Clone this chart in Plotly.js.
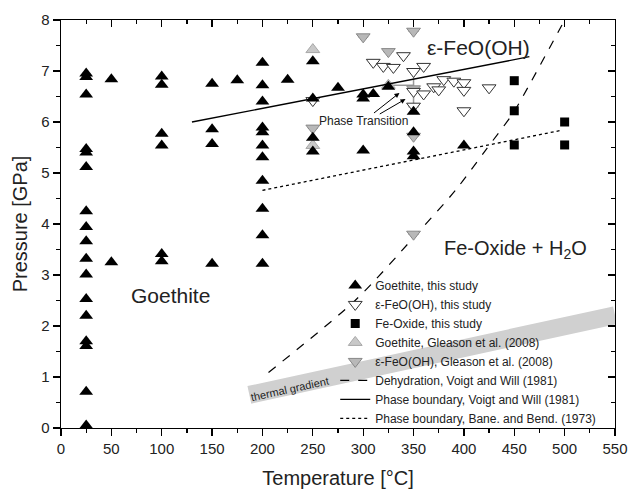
<!DOCTYPE html>
<html><head><meta charset="utf-8">
<script src="https://cdn.plot.ly/plotly-3.0.1.min.js"></script>
<style>html,body{margin:0;padding:0;background:#fff}#c{width:630px;height:493px}</style>
</head><body><div id="c"></div>
<script>
// Goethite, this study
const goeT = [25,25,25,25,25,25,25,25,25,25,25,25,25,25,25,25,25,25,
  50,50, 100,100,100,100,100,100, 150,150,150,150, 175,
  200,200,200,200,200,200,200,200,200,200,200, 225,
  250,250,250,250, 275, 300,300,300, 310, 325, 350,350,350,350, 400];
const goeP = [0.02,0.05,0.71,1.61,1.70,2.20,2.53,3.01,3.32,3.66,3.94,4.25,5.12,5.40,5.47,6.54,6.88,6.95,
  6.84,3.25, 6.89,6.73,5.77,5.54,3.41,3.27, 6.75,5.86,5.57,3.22, 6.82,
  7.16,6.72,6.40,5.89,5.80,5.54,5.31,4.85,4.30,3.78,3.22, 6.83,
  7.19,6.46,5.69,5.42, 6.67, 6.54,6.46,5.44, 6.55, 6.69, 6.20,5.80,5.42,5.33, 5.54];
// epsilon-FeO(OH), this study
const epsT = [250,310,320,330,340,350,360,350,350,360,370,375,380,390,400,400,400,425];
const epsP = [6.42,7.17,7.09,7.07,7.30,6.99,7.09,6.60,6.31,6.55,6.69,6.63,6.83,6.80,6.77,6.62,6.22,6.67];
// Fe-Oxide, this study
const oxT = [450,450,450,500,500];
const oxP = [6.81,6.22,5.55,6.00,5.55];
// Goethite, Gleason et al. (2008)
const gGoeT = [250,250,325];
const gGoeP = [7.42,5.54,6.72];
const gGoeErrXplus = [null,null,25];
const gGoeErrXminus = [null,null,0];
// epsilon-FeO(OH), Gleason et al. (2008)
const gEpsT = [300,350,325,350,250,350,350];
const gEpsP = [7.67,7.78,7.38,6.65,5.88,5.72,3.80];
const gEpsErrY = [null,null,null,0.35,null,null,null];
// Dehydration, Voigt and Will (1981)
const dehT = [206,293,353,392,422,449,465,500];
const dehP = [1.09,2.52,3.80,4.67,5.46,6.18,6.73,8.0];
// Phase boundary, Voigt and Will (1981)
const vwT = [130,465];
const vwP = [6.0,7.28];
// Phase boundary, Bane. and Bend. (1973)
const bbT = [200,495];
const bbP = [4.66,5.83];
// thermal gradient band
const thermT = [187,550];
const thermP = [0.65,2.21];
// tick labels
const xTicks = [0,50,100,150,200,250,300,350,400,450,500,550];
const yTicks = [0,1,2,3,4,5,6,7,8];

const FONT = 'Liberation Sans, Arial, sans-serif';

const traces = [
  {x: dehT, y: dehP, mode:'lines', line:{color:'#000', width:1.2, dash:'dash', shape:'spline', smoothing:0.8},
   name:'Dehydration, Voigt and Will (1981)', legendrank:6},
  {x: vwT, y: vwP, mode:'lines', line:{color:'#000', width:1.3}, xaxis:'x2', yaxis:'y2',
   name:'Phase boundary, Voigt and Will (1981)', legendrank:7},
  {x: bbT, y: bbP, mode:'lines', line:{color:'#000', width:1.3, dash:'dot'},
   name:'Phase boundary, Bane. and Bend. (1973)', legendrank:8},
  {x: gGoeT, y: gGoeP, mode:'markers', type:'scatter',
   marker:{symbol:'triangle-up', size:12, color:'#c8c8c8', line:{color:'#a8a8a8', width:1}},
   error_x:{type:'data', symmetric:false, array:gGoeErrXplus, arrayminus:gGoeErrXminus, color:'#999', thickness:1.5, width:0},
   name:'Goethite, Gleason et al. (2008)', legendrank:4},
  {x: gEpsT, y: gEpsP, mode:'markers', type:'scatter',
   marker:{symbol:'triangle-down', size:12, color:'#b8b8b8', line:{color:'#888', width:1}},
   error_y:{type:'data', array:gEpsErrY, color:'#999', thickness:1.5, width:5},
   name:'ε-FeO(OH), Gleason et al. (2008)', legendrank:5},
  {x: epsT, y: epsP, mode:'markers', type:'scatter',
   marker:{symbol:'triangle-down', size:12, color:'#fff', line:{color:'#333', width:1}},
   name:'ε-FeO(OH), this study', legendrank:2},
  {x: goeT, y: goeP, mode:'markers', type:'scatter',
   marker:{symbol:'triangle-up', size:12, color:'#000'},
   name:'Goethite, this study', legendrank:1},
  {x: oxT, y: oxP, mode:'markers', type:'scatter',
   marker:{symbol:'square', size:9, color:'#000'},
   name:'Fe-Oxide, this study', legendrank:3}
];

const axisCommon = {
  showgrid:false, zeroline:false, showline:true, linecolor:'#000', linewidth:1.3,
  ticks:'outside', ticklen:7, tickwidth:1.3, tickcolor:'#000',
  tickfont:{family:FONT, size:15, color:'#222'}
};

const layout = {
  width:630, height:493,
  margin:{l:61, r:15, t:20, b:65},
  paper_bgcolor:'#fff', plot_bgcolor:'#fff',
  font:{family:FONT, color:'#222'},
  showlegend:true,
  legend:{x:0.495, xanchor:'left', y:0.385, yanchor:'top', bgcolor:'rgba(0,0,0,0)',
    font:{family:FONT, size:12, color:'#222'}, traceorder:'normal', itemwidth:30, tracegroupgap:0},
  xaxis: Object.assign({}, axisCommon, {
    range:[0,550], tickvals:xTicks, mirror:true,
    minor:{dtick:25, ticks:'outside', ticklen:4, tickwidth:1.2, tickcolor:'#000'},
    title:{text:'Temperature [°C]', font:{family:FONT, size:20, color:'#222'}, standoff:14}
  }),
  yaxis: Object.assign({}, axisCommon, {
    range:[0,8], tickvals:yTicks, mirror:true,
    minor:{dtick:0.5, ticks:'outside', ticklen:4, tickwidth:1.2, tickcolor:'#000'},
    title:{text:'Pressure [GPa]', font:{family:FONT, size:20, color:'#222'}, standoff:8}
  }),
  xaxis2:{overlaying:'x', side:'top', anchor:'y2', range:[0,550], showticklabels:false,
    gridcolor:'rgba(0,0,0,0)', zerolinecolor:'rgba(0,0,0,0)',
    ticks:'inside', ticklen:7, tickwidth:1.3, tickcolor:'#000',
    tickmode:'linear', tick0:0, dtick:50,
    minor:{dtick:25, ticks:'inside', ticklen:4, tickwidth:1.2, tickcolor:'#000'}},
  yaxis2:{overlaying:'y', side:'right', anchor:'x2', range:[0,8], showticklabels:false,
    gridcolor:'rgba(0,0,0,0)', zerolinecolor:'rgba(0,0,0,0)',
    ticks:'inside', ticklen:7, tickwidth:1.3, tickcolor:'#000',
    tickmode:'linear', tick0:0, dtick:1,
    minor:{dtick:0.5, ticks:'inside', ticklen:4, tickwidth:1.2, tickcolor:'#000'}},
  shapes:[
    {type:'line', xref:'x', yref:'y', x0:thermT[0], y0:thermP[0], x1:thermT[1], y1:thermP[1],
     line:{color:'#d0d0d0', width:18}, layer:'below'}
  ],
  annotations:[
    {x:414, y:7.46, xref:'x', yref:'y', text:'ε-FeO(OH)', showarrow:false, font:{family:FONT, size:21, color:'#222'}},
    {x:451, y:3.5, xref:'x', yref:'y', text:'Fe-Oxide + H<sub>2</sub>O', showarrow:false, font:{family:FONT, size:20, color:'#222'}},
    {x:109, y:2.6, xref:'x', yref:'y', text:'Goethite', showarrow:false, font:{family:FONT, size:21, color:'#222'}},
    {x:336, y:6.57, xref:'x', yref:'y', ax:300, ay:6.01, axref:'x', ayref:'y', text:'Phase Transition', showarrow:true, arrowhead:2, arrowsize:1, arrowwidth:1, arrowcolor:'#000', font:{family:FONT, size:12, color:'#222'}},
    {x:227, y:0.76, xref:'x', yref:'y', text:'thermal gradient', showarrow:false, textangle:-12.3, font:{family:FONT, size:11, color:'#222'}},
    {x:342, y:6.45, xref:'x', yref:'y', ax:315, ay:6.14, axref:'x', ayref:'y', text:'', showarrow:true, arrowhead:2, arrowsize:1, arrowwidth:1, arrowcolor:'#000'}
  ]
};

Plotly.newPlot('c', traces, layout, {displayModeBar:false, staticPlot:true});
</script>
</body></html>
